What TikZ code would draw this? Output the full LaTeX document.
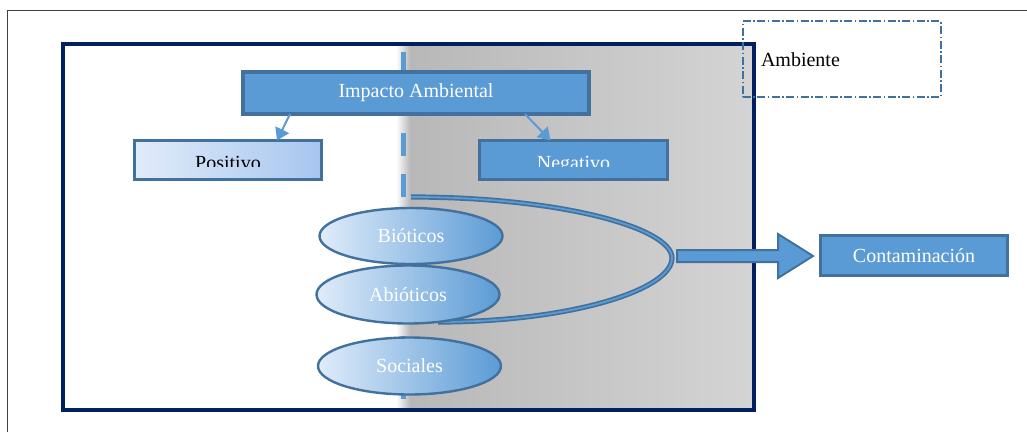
\documentclass[tikz,border=0pt]{standalone}
\usepackage{fontspec}
\setmainfont{Liberation Serif}
\usetikzlibrary{arrows.meta,shapes.geometric}
\definecolor{fillblue}{HTML}{5B9BD5}
\definecolor{edgeblue}{HTML}{41719C}
\definecolor{navy}{HTML}{002060}
\definecolor{paleblue}{HTML}{E0ECFA}
\definecolor{midblue}{HTML}{A7C6EE}
\definecolor{ovalmid}{HTML}{80A8D8}
\definecolor{shadeA}{HTML}{B8B8B8}
\definecolor{shadeB}{HTML}{D4D4D4}
\definecolor{framegray}{HTML}{404040}

\begin{document}
\begin{tikzpicture}[x=1pt,y=-1pt,
  every node/.style={font=\fontsize{20}{24}\selectfont, inner sep=0pt, outer sep=0pt},
  bluebox/.style={draw=edgeblue, line width=3.5pt, fill=fillblue, text=white},
  lightbox/.style={draw=edgeblue, line width=3.5pt, left color=paleblue, right color=midblue},
  oval/.style={ellipse, draw=edgeblue, line width=2.4pt, left color=paleblue,
    middle color=ovalmid, right color=fillblue, text=white,
    minimum width=183pt, minimum height=56pt},
  conn/.style={draw=fillblue, line width=2pt, -{Triangle[width=15pt,length=12pt]}},
  divider/.style={draw=fillblue, line width=5pt, dash pattern=on 23pt off 17.5pt},
  bracket/.style={draw=edgeblue, line width=1.7pt, double=fillblue, double distance=1.8pt},
  blockarrow/.style={draw=edgeblue, line width=2pt, fill=fillblue, line join=miter},
]
\useasboundingbox (0,0) rectangle (1027,432);

% page frame
\draw[framegray, line width=1pt] (7,432) -- (7,10) -- (1027,10);

% shaded half of the main panel
\shade[left color=white, right color=shadeA] (396,45) rectangle (410,409);
\shade[left color=shadeA, right color=shadeB] (410,45) rectangle (753,409);

% dashed divider
\draw[divider] (403,52) -- (403,404);

% main panel border
\draw[navy, line width=3.6pt] (63,44) rectangle (754,410);

% boxes
\node[bluebox, minimum width=346pt, minimum height=42pt] (imp) at (416,93) {Impacto Ambiental};
\node[lightbox, minimum width=187pt, minimum height=39pt] (pos) at (228,160) {};
\node[bluebox, minimum width=188pt, minimum height=39pt] (neg) at (573.5,160) {};
\begin{scope}
  \clip (pos.north west) rectangle ([yshift=13pt]pos.south east);
  \node[anchor=base, text=black] (posText) at ([yshift=-9pt]pos.center) {Positivo};
\end{scope}
\begin{scope}
  \clip (neg.north west) rectangle ([yshift=13pt]neg.south east);
  \node[anchor=base, text=white] (negText) at ([yshift=-9pt]neg.center) {Negativo};
\end{scope}

% arrows from Impacto Ambiental
\draw[conn] ([xshift=-126pt]imp.south) -- ([xshift=49pt]pos.north);
\draw[conn] ([xshift=109pt]imp.south) -- ([xshift=-23pt]neg.north);

% bracket around the biotic / abiotic factors
\coordinate (brTop) at (411,197);
\coordinate (brTip) at (672,258);
\coordinate (brEnd) at (438,322);
\draw[bracket] (brTop) .. controls (561,197) and (672,228) .. (brTip)
  .. controls (672,290) and (570,322) .. (brEnd);

% factor ellipses
\node[oval] (bio) at (411,236) {Bióticos};
\node[oval, minimum height=58pt] (abio) at (408,294.5) {Abióticos};
\node[oval, minimum height=57pt] (soc) at (409.5,366) {Sociales};

% block arrow to Contaminacion
\draw[blockarrow] (677,250) -- (778,250) -- (778,234) -- (813,256)
  -- (778,278) -- (778,262) -- (677,262) -- cycle;

\node[bluebox, minimum width=187pt, minimum height=40pt] (cont) at (914,255.5) {Contaminación};

% legend box
\node[draw=edgeblue, line width=2pt, dash pattern=on 8pt off 2.5pt on 1.5pt off 2.5pt,
  minimum width=198pt, minimum height=76pt] (amb) at (841.5,59) {};
\node[anchor=base west, text=black] (ambText) at (761,66) {Ambiente};
\end{tikzpicture}
\end{document}
